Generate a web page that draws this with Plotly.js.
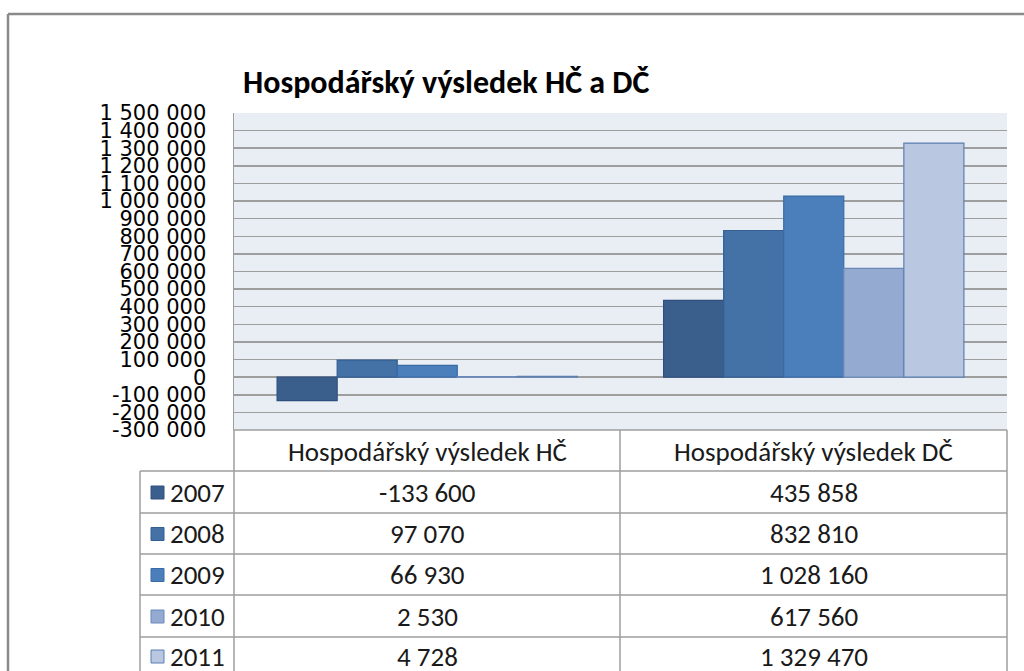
<!DOCTYPE html>
<html>
<head>
<meta charset="utf-8">
<script src="https://cdn.plot.ly/plotly-3.0.1.min.js"></script>
<style>
html,body{margin:0;padding:0;background:#fff;}
#chart{width:1024px;height:671px;}
</style>
</head>
<body>
<div id="chart"></div>
<script>
const categories = ["Hospodářský výsledek HČ", "Hospodářský výsledek DČ"];
const years = ["2007", "2008", "2009", "2010", "2011"];
const valuesHC = [-133600, 97070, 66930, 2530, 4728];
const valuesDC = [435858, 832810, 1028160, 617560, 1329470];
const fillColors = ["#3A5F8C", "#4471A6", "#4B7FBC", "#95AAD1", "#B9C7E1"];
const lineColors = ["#2E5080", "#345F92", "#3A6BA5", "#6A88BA", "#5C7FB0"];
const tickVals = [-300000,-200000,-100000,0,100000,200000,300000,400000,500000,600000,700000,800000,900000,1000000,1100000,1200000,1300000,1400000,1500000];

function fmt(v){
  const s = Math.abs(v).toString().replace(/\B(?=(\d{3})+(?!\d))/g, " ");
  return (v < 0 ? "-" : "") + s;
}

const W = 1024, H = 671;
const L = 234, R = 1007, T = 113, B = 430;
const px = x => (x - L) / (R - L);
const py = y => (B - y) / (B - T);

const traces = years.map((yr, i) => ({
  type: "bar",
  name: yr,
  x: categories,
  y: [valuesHC[i], valuesDC[i]],
  marker: {color: fillColors[i], line: {color: lineColors[i], width: 1.2}},
  hoverinfo: "x+y+name"
}));

const tableFont = {family: "Carlito, 'Open Sans', 'Noto Sans', sans-serif", size: 27, color: "#1a1a1a"};
const gridC = "#9E9E9E";
const shapes = [];
const annotations = [];

// outer frame
shapes.push({type:"line", xref:"paper", yref:"paper", x0:px(8), x1:px(1024), y0:py(14), y1:py(14), line:{color:"#8A8A8A", width:2.5}});
shapes.push({type:"line", xref:"paper", yref:"paper", x0:px(8), x1:px(8), y0:py(14), y1:py(671), line:{color:"#8A8A8A", width:2.5}});

// table lines
const rowLines = [430, 471, 513, 554, 595, 637];
rowLines.forEach((y, k) => {
  const x0 = k === 0 ? L : 140;
  shapes.push({type:"line", xref:"paper", yref:"paper", x0:px(x0), x1:px(R), y0:py(y), y1:py(y), line:{color:gridC, width:1.5}});
});
[[140, 471], [L, 430], [620, 430], [R, 430]].forEach(([x, y0]) => {
  shapes.push({type:"line", xref:"paper", yref:"paper", x0:px(x), x1:px(x), y0:py(y0), y1:py(680), line:{color:gridC, width:1.5}});
});

// header text
const colCenters = [427, 813.5];
categories.forEach((c, j) => {
  annotations.push({xref:"paper", yref:"paper", x:px(colCenters[j]), y:py(451), text:c, showarrow:false, xanchor:"center", yanchor:"middle", font:tableFont});
});
const rowCenters = [492, 533.5, 574.5, 616, 656];
years.forEach((yr, i) => {
  const yc = rowCenters[i];
  shapes.push({type:"rect", xref:"paper", yref:"paper", x0:px(151), x1:px(164), y0:py(yc-6), y1:py(yc+7), fillcolor:fillColors[i], line:{color:lineColors[i], width:1}});
  annotations.push({xref:"paper", yref:"paper", x:px(168), y:py(yc), text:yr, showarrow:false, xanchor:"left", yanchor:"middle", font:tableFont});
  annotations.push({xref:"paper", yref:"paper", x:px(colCenters[0]), y:py(yc), text:fmt(valuesHC[i]), showarrow:false, xanchor:"center", yanchor:"middle", font:tableFont});
  annotations.push({xref:"paper", yref:"paper", x:px(colCenters[1]), y:py(yc), text:fmt(valuesDC[i]), showarrow:false, xanchor:"center", yanchor:"middle", font:tableFont});
});

const layout = {
  width: W, height: H,
  margin: {l: L, r: W - R, t: T, b: H - B, pad: 0},
  paper_bgcolor: "#ffffff",
  plot_bgcolor: "#E9EDF4",
  separators: ", ",
  title: {text: "<b>Hospodářský výsledek HČ a DČ</b>", x: px(243), xref: "paper", xanchor: "left", y: 1 - 82/H, yanchor: "middle",
          font: {family: "Carlito, 'Open Sans', 'Noto Sans', sans-serif", size: 32, color: "#000"}},
  showlegend: false,
  barmode: "group",
  bargap: 0.223,
  bargroupgap: 0,
  xaxis: {showticklabels: false, showgrid: false, zeroline: false, showline: false, ticks: "", fixedrange: true},
  yaxis: {range: [-300000, 1500000], tickvals: tickVals, ticktext: tickVals.map(fmt), tickfont: {family: "'DejaVu Sans', sans-serif", size: 21, color: "#000"},
          showgrid: true, gridcolor: gridC, gridwidth: 1.5, zeroline: true, zerolinecolor: gridC, zerolinewidth: 1.5,
          showline: true, linecolor: gridC, linewidth: 1.5, mirror: false, ticks: "", ticklabelstandoff: 22, fixedrange: true},
  shapes: shapes,
  annotations: annotations
};

Plotly.newPlot("chart", traces, layout, {displayModeBar: false, staticPlot: true});
</script>
</body>
</html>
